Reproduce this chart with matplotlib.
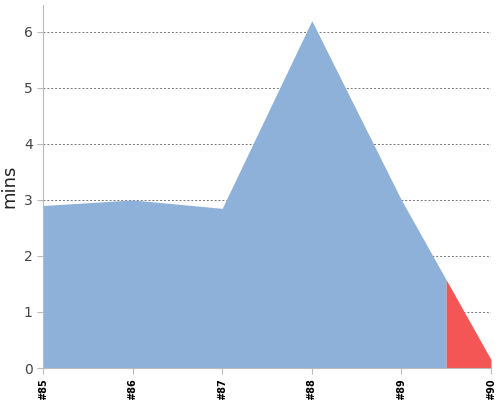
import numpy as np
import matplotlib.pyplot as plt

labels = ['#85', '#86', '#87', '#88', '#89', '#90']
mins = [2.9, 3.0, 2.85, 6.2, 3.0, 0.15]
split_at = 4.5  # red part starts half way between #89 and #90

x = np.arange(len(labels), dtype=float)
y = np.array(mins)

fig = plt.figure(figsize=(5, 4), dpi=100)
ax = fig.add_axes([0.086, 0.08, 0.896, 0.9075])

# blue area up to the split, red after it
ys = np.interp(split_at, x, y)
xb = np.append(x[x < split_at], split_at)
yb = np.append(y[x < split_at], ys)
xr = np.insert(x[x > split_at], 0, split_at)
yr = np.insert(y[x > split_at], 0, ys)
ax.fill_between(xb, 0, yb, color='#8eb1da', lw=0, zorder=2)
ax.fill_between(xr, 0, yr, color='#f45555', lw=0, zorder=2)

ax.set_xlim(0, len(labels) - 1)
ax.set_ylim(0, 6.48)
ax.set_yticks(range(7))
ax.set_xticks(x)
ax.set_xticklabels(labels, rotation=90, fontsize=7, fontweight='bold')
ax.tick_params(axis='y', labelsize=10, colors='#444444', length=4, color='#bbbbbb')
ax.tick_params(axis='x', length=4, color='#bbbbbb', labelcolor='black')
ax.grid(axis='y', linestyle=(0, (2, 2)), color='#777777', lw=0.7, zorder=1)
ax.set_ylabel('mins', fontsize=13, color='#222222')

for s in ['top', 'right']:
    ax.spines[s].set_visible(False)
for s in ['left', 'bottom']:
    ax.spines[s].set_color('#bbbbbb')

fig.savefig('out.png')
